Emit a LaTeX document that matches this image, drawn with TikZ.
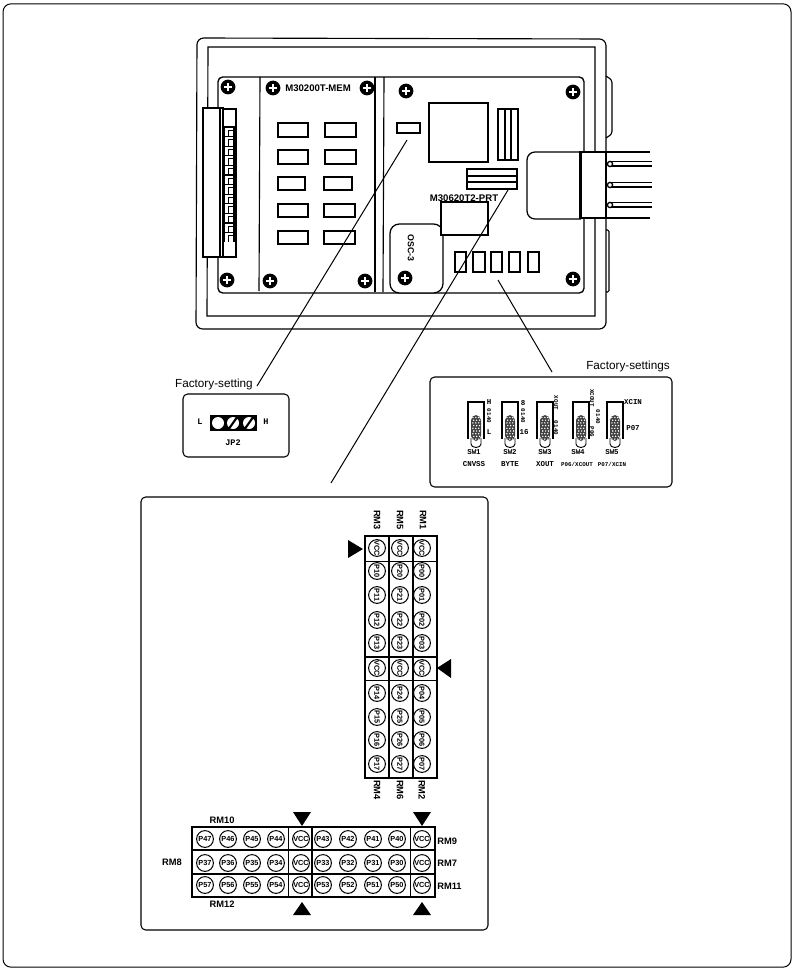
\documentclass[tikz,border=0pt]{standalone}
\usepackage{fontspec}
\setmainfont{Liberation Sans}
\newfontfamily\blockfont{Liberation Mono}
\tikzset{
  ln/.style={draw=black,line width=0.85pt},
  thin line/.style={draw=black,line width=0.6pt},
  heavy/.style={draw=black,line width=1.5pt},
  chipbox/.style={draw=black,line width=0.95pt,fill=white},
  frame/.style={draw=black,line width=0.8pt,rounded corners=3.5pt,fill=white},
  leader/.style={draw=black,line width=0.75pt},
  marker/.style={fill=black,draw=none},
  sans/.style={font=\fontsize{8.8pt}{9pt}\selectfont,inner sep=0pt},
  bsans/.style={font=\fontsize{7.2pt}{8pt}\selectfont\bfseries,inner sep=0pt},
  rmlabel/.style={font=\fontsize{7pt}{7.5pt}\selectfont\bfseries,inner sep=0pt},
  blk/.style={font=\fontsize{5.6pt}{6pt}\selectfont\blockfont\bfseries,inner sep=0pt},
  blks/.style={font=\fontsize{4.4pt}{5pt}\selectfont\blockfont\bfseries,inner sep=0pt},
  pin/.style={circle,draw=black,line width=0.75pt,fill=white,minimum size=12.6pt,inner sep=0pt,font=\fontsize{5.5pt}{5.6pt}\selectfont\bfseries},
  screwpic/.pic={
    \fill[black] (0,0) circle (7.4);
    \fill[white] (-4.4,-1.4) rectangle (4.4,1.4);
    \fill[white] (-1.4,-4.4) rectangle (1.4,4.4);
  },
  swpic/.pic={
    \draw[line width=0.85pt] (0,37) -- (0,0) -- (16,0) -- (16,37);
    \draw[line width=0.7pt,fill=white] (3,36) -- (3,42) arc[start angle=180,end angle=360,x radius=5,y radius=-3.5] -- (13,36);
    \fill[black!75,rounded corners=4pt] (3,13) rectangle (13,39);
    \foreach \j in {0,...,8}{
      \foreach \i in {0,1,2}{
        \fill[white] ({4.9+\i*2.9+mod(\j,2)*0.8},{15.5+\j*2.7}) circle (0.8);
      }
    }
  },
}
\begin{document}
\begin{tikzpicture}[x=0.75pt,y=-0.75pt]
\useasboundingbox (0,0) rectangle (794,970);
\fill[white] (0,0) rectangle (794,970);
% page frame
\node[draw=black,line width=0.75pt,rounded corners=6pt,minimum width=591pt,minimum height=722.5pt,inner sep=0pt] (page) at (397,485.5) {};
% device
\draw[ln,rounded corners=5pt] (606,152) -- (606,39) -- (197,38) -- (196,329) -- (606,329) -- (606,219);
\draw[ln] (595,152) -- (595,47) -- (208,47) -- (207,316) -- (595,316) -- (595,219);
% side tabs
\draw[ln,rounded corners=2pt] (606,76) -- (612,80) -- (612,134) -- (606,138);
\draw[ln,rounded corners=1pt] (606,230) -- (609,230) -- (609,292) -- (606,292);
% bay
\draw[frame,line width=1pt] (218,77) rectangle (584,293);
\draw[ln] (260,77) -- (259,291);
\draw[ln] (375,77) -- (375,292);
\draw[ln] (384,77) -- (383,292);
% left connector
\draw[chipbox] (223,109) rectangle (236,257);
\foreach \k in {0,...,11}{
  \draw[line width=0.8pt] ({224},{136+\k*9.6}) -- (224,{127+\k*9.6}) -- (234,{127+\k*9.6}) -- (234,{136+\k*9.6});
  \draw[line width=0.6pt] (228,{136+\k*9.6}) -- (228,{130+\k*9.6}) -- (234,{130+\k*9.6});
}
\draw[line width=1.2pt,fill=white] (203,108) rectangle (223,257);
\draw[line width=1.3pt] (220,108) -- (220,257);
% screws
\foreach \n/\sx/\sy in {a/228/87,b/273/88,c/367/88,d/406/91,e/573/92,f/227/280,g/270/281,h/365/281,j/405/278,k/573/279}{
  \coordinate (scr\n) at (\sx,\sy);
}
% MEM chips
\foreach \xa/\xb/\ya/\yb in {278/308/123/137,325/356/123/137,278/308/150/164,325/356/150/164,278/305/177/190,324/352/177/190,278/308/204/217,324/355/204/217,278/308/231/244,324/355/231/244}{
  \draw[chipbox,fill=none] (\xa,\ya) rectangle (\xb,\yb);
}
\node[bsans,anchor=west] (memlabel) at (285,88) {M30200T-MEM};
% PRT board
\draw[chipbox] (397,123) rectangle (420,133);
\coordinate (jpchip) at (407,140);
\draw[chipbox] (429,103) rectangle (488,162);
\draw[chipbox] (498,109) rectangle (518,160);
\draw[ln] (505,109) -- (505,160) (511,109) -- (511,160);
\draw[chipbox] (467,169) rectangle (517,189);
\draw[ln] (467,176) -- (517,176) (467,182) -- (517,182);
\node[bsans] (prtlabel) at (464,198) {M30620T2-PRT};
\draw[chipbox,rounded corners=7pt] (390,293) -- (390,224) -- (443,224) -- (443,293) -- cycle;
\draw[chipbox] (441,202) rectangle (488,235);
\node[bsans,rotate=-90,font=\fontsize{6.6pt}{7pt}\selectfont\bfseries] (osclabel) at (411,248) {OSC-3};
\foreach \xa/\xb in {455/466,473/485,491/502,509/520,528/539}{
  \draw[chipbox,fill=none] (\xa,252) rectangle (\xb,272);
}
% connector
\draw[chipbox,rounded corners=6pt] (581,152) -- (527,152) -- (527,219) -- (581,219);
\draw[chipbox] (580,152) rectangle (606,218);
\draw[line width=1.4pt] (581,152) -- (581,218);
\draw[ln] (606,152) -- (650,152);
\draw[ln] (606,218) -- (650,218);
\foreach \cy in {164,185,205}{
  \draw[line width=0.6pt] (609,{\cy-2.5}) -- (652,{\cy-2.5});
  \draw[line width=1.1pt] (609,{\cy+2}) -- (652,{\cy+2});
  \draw[fill=white,line width=1pt] (610,\cy) circle (2.6);
}
\foreach \n in {a,b,c,d,e,f,g,h,j,k}{ \pic at (scr\n) {screwpic}; }
% JP2 box
\draw[frame] (183,394) rectangle (289,457);
\node[sans,anchor=east] (fs1) at (253,384) {Factory-setting};
\node[blk,font=\fontsize{6.4pt}{7pt}\selectfont\blockfont\bfseries] (jpl) at (200,422) {L};
\node[blk,font=\fontsize{6.4pt}{7pt}\selectfont\blockfont\bfseries] (jph) at (266,422) {H};
\node[blk,font=\fontsize{6.4pt}{7pt}\selectfont\blockfont\bfseries] (jplabel) at (233,443) {JP2};
\fill[black] (210,415) rectangle (257,431);
\foreach \cx in {218,233,249}{ \fill[white] (\cx,423) circle (6); }
\draw[line width=1.6pt] (228,430) -- (238,416) (244,430) -- (254,416);
\coordinate (jpbox) at (257,386);
% SW box
\draw[frame] (430,377) rectangle (672,487);
\node[sans,anchor=east] (fs2) at (670,366) {Factory-settings};
\foreach \sx in {468,502,537,573,607}{ \pic at (\sx,402) {swpic}; }
\node[blk] at (474,452) {SW1};
\node[blk] at (474,464) {CNVSS};
\node[blk] at (510,452) {SW2};
\node[blk] at (510,464) {BYTE};
\node[blk] at (545,452) {SW3};
\node[blk] at (545,464) {XOUT};
\node[blk] at (578,452) {SW4};
\node[blks] at (577,464) {P06/XCOUT};
\node[blk] at (612,452) {SW5};
\node[blks] at (612,464) {P07/XCIN};
\node[blk] at (489,402) {H};
\node[blks,rotate=-90] at (489,416) {0140};
\node[blk] at (489,432) {L};
\node[blk] at (523,403) {8};
\node[blks,rotate=-90] at (523,416) {0140};
\node[blk] at (524,432) {16};
\node[blks,rotate=-90] at (556,403) {XOUT};
\node[blks,rotate=-90] at (556,428) {0140};
\node[blks,rotate=-90] at (592,398) {XCOUT};
\node[blks,rotate=-90] at (592,432) {P06};
\node[blks,rotate=-90] at (598,417) {0140};
\node[blk] at (633,402) {XCIN};
\node[blk] at (633,428) {P07};
% big box
\draw[frame] (141,497) rectangle (488,930);
% vertical table
\draw[heavy,line width=1.9pt] (365,536) rectangle (437,778);
\draw[heavy] (389,536) -- (389,778) (413,536) -- (413,778);
\draw[thin line] (365,561) -- (437,561) (365,680) -- (437,680);
\draw[heavy,line width=1.1pt] (365,657) -- (437,657);
\def\rowys{548/0,571/1,595/2,620/3,643/4,668/5,693/6,717/7,740/8,764/9}
\foreach \cx/\cn/\pa in {377/a/1,400/b/2,422/c/0}{
  \foreach \ry/\ri in \rowys{
    \ifnum\ri=0 \def\txt{VCC}\else\ifnum\ri=5 \def\txt{VCC}\else
      \pgfmathtruncatemacro{\pnum}{\ri<5?\ri-1:\ri-2}\def\txt{P\pa\pnum}\fi\fi
    \node[pin,rotate=-90] (v\cn\ri) at (\cx,\ry) {\txt};
  }
}
\foreach \cx/\t in {377/RM3,400/RM5,423/RM1}{ \node[rmlabel,rotate=-90] (l\t) at (\cx,520) {\t}; }
\foreach \cx/\t in {377/RM4,400/RM6,422/RM2}{ \node[rmlabel,rotate=-90] (l\t) at (\cx,790) {\t}; }
\fill[marker] (363,549) -- (348,540) -- (348,558) -- cycle;
\fill[marker] (437,668) -- (451,659) -- (451,678) -- cycle;
% horizontal table
\draw[heavy,line width=1.9pt] (192,827) rectangle (435,897);
\draw[heavy] (192,850) -- (435,850) (192,874) -- (435,874);
\draw[heavy] (312,827) -- (312,897);
\draw[thin line] (288,827) -- (288,897) (410,827) -- (410,897);
\foreach \ry/\rn/\pa in {839/a/4,863/b/3,885/c/5}{
  \foreach \cx/\ci in {205/7,228/6,252/5,276/4,323/3,348/2,373/1,397/0}{
    \node[pin] (h\rn\ci) at (\cx,\ry) {P\pa\ci};
  }
  \node[pin] (h\rn v1) at (301,\ry) {VCC};
  \node[pin] (h\rn v2) at (422,\ry) {VCC};
}
\node[rmlabel] (lRM10) at (222,820) {RM10};
\node[rmlabel] (lRM12) at (222,904) {RM12};
\node[rmlabel] (lRM8) at (172,862) {RM8};
\node[rmlabel,anchor=west] (lRM9) at (437,841) {RM9};
\node[rmlabel,anchor=west] (lRM7) at (437,863) {RM7};
\node[rmlabel,anchor=west] (lRM11) at (437,886) {RM11};
\fill[marker] (302,826) -- (293,812) -- (311,812) -- cycle;
\fill[marker] (422,826) -- (413,812) -- (431,812) -- cycle;
\fill[marker] (302,902) -- (293,915) -- (311,915) -- cycle;
\fill[marker] (422,902) -- (413,915) -- (431,915) -- cycle;
% leaders
\coordinate (prthdr) at (508,190);
\coordinate (bigbox) at (331,483);
\coordinate (swarray) at (498,280);
\coordinate (swbox) at (552,372);
\draw[leader] (jpchip) -- (jpbox);
\draw[leader] (prthdr) -- (bigbox);
\draw[leader] (swarray) -- (swbox);
\end{tikzpicture}
\end{document}
